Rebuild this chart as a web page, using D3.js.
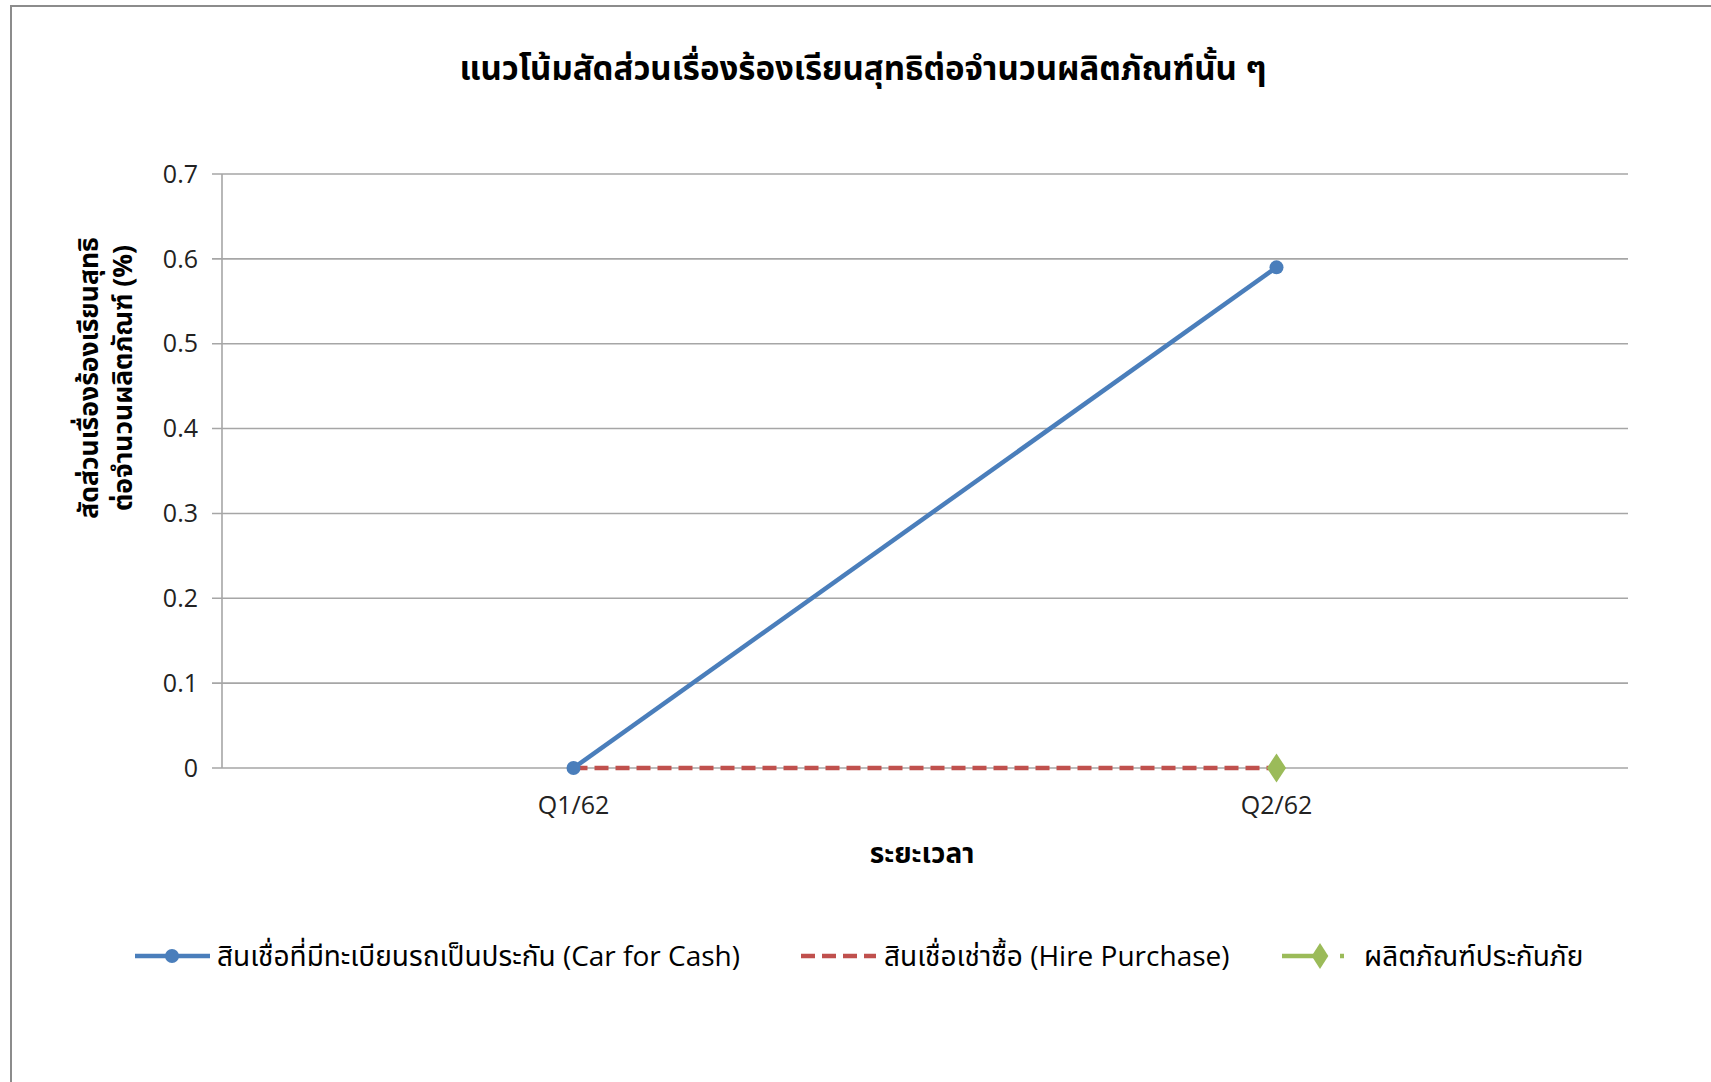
<!DOCTYPE html>
<html><head><meta charset="utf-8">
<script src="https://cdn.jsdelivr.net/npm/d3@7"></script>
<style>
html,body{margin:0;padding:0;background:#fff;}
text{font-family:"Open Sans","Noto Sans Thai","Noto Sans",sans-serif;}
</style></head>
<body>
<svg id="chart" width="1711" height="1082"></svg>
<script>
const title = "แนวโน้มสัดส่วนเรื่องร้องเรียนสุทธิต่อจำนวนผลิตภัณฑ์นั้น ๆ";
const yTitleLines = ["สัดส่วนเรื่องร้องเรียนสุทธิ", "ต่อจำนวนผลิตภัณฑ์ (%)"];
const xTitle = "ระยะเวลา";
const categories = ["Q1/62", "Q2/62"];
const yTicks = [0, 0.1, 0.2, 0.3, 0.4, 0.5, 0.6, 0.7];
const carForCash = [0, 0.59];
const hirePurchase = [0, 0];
const insurance = [null, 0];
const seriesNames = ["สินเชื่อที่มีทะเบียนรถเป็นประกัน (Car for Cash)", "สินเชื่อเช่าซื้อ (Hire Purchase)", "ผลิตภัณฑ์ประกันภัย"];

const svg = d3.select("#chart");
const L = 222, R = 1628, T = 174, B = 768;

// chart border
svg.append("rect").attr("x",11).attr("y",6).attr("width",1720).attr("height",1100)
  .attr("fill","none").attr("stroke","#8c8c8c").attr("stroke-width",2);

const x = d3.scalePoint().domain(categories).range([L, R]).padding(0.5);
const y = d3.scaleLinear().domain([0, 0.7]).range([B, T]);

// gridlines
svg.append("g").selectAll("line").data(yTicks).join("line")
  .attr("x1", L-10).attr("x2", R).attr("y1", d=>y(d)).attr("y2", d=>y(d))
  .attr("stroke","#a6a6a6").attr("stroke-width",1.6);
// y axis line
svg.append("line").attr("x1",L).attr("x2",L).attr("y1",T).attr("y2",B)
  .attr("stroke","#a6a6a6").attr("stroke-width",1.6);

// y tick labels
svg.append("g").selectAll("text").data(yTicks).join("text")
  .attr("x", 198).attr("y", d=>y(d)).attr("dy","0.35em").attr("text-anchor","end")
  .attr("font-size",25).attr("fill","#222").text(d=>d===0?"0":d3.format(".1f")(d));

// x tick labels
svg.append("g").selectAll("text").data(categories).join("text")
  .attr("x", d=>x(d)).attr("y", 805).attr("dy","0.35em").attr("text-anchor","middle")
  .attr("font-size",25).attr("fill","#222").text(d=>d);

// title
svg.append("text").attr("x", 863).attr("y", 68).attr("dy","0.35em").attr("text-anchor","middle")
  .attr("font-size",33).attr("font-weight","bold").attr("fill","#000").text(title);

// x title
svg.append("text").attr("x", 922).attr("y", 853).attr("dy","0.35em").attr("text-anchor","middle")
  .attr("font-size",28).attr("font-weight","bold").attr("fill","#000").text(xTitle);

// y title
const yt = svg.append("text").attr("transform","translate(106,378) rotate(-90)")
  .attr("text-anchor","middle").attr("font-size",26.5).attr("font-weight","bold").attr("fill","#000");
yt.selectAll("tspan").data(yTitleLines).join("tspan")
  .attr("x",0).attr("dy",(d,i)=>i===0?"-0.3em":"1.28em").text(d=>d);

const line = d3.line().defined(d=>d.v!=null).x(d=>x(d.c)).y(d=>y(d.v));
const toPts = arr => categories.map((c,i)=>({c, v:arr[i]}));

// red dashed
svg.append("path").datum(toPts(hirePurchase)).attr("d", line).attr("fill","none")
  .attr("stroke","#c0504d").attr("stroke-width",4.5).attr("stroke-dasharray","14,7");
// blue
svg.append("path").datum(toPts(carForCash)).attr("d", line).attr("fill","none")
  .attr("stroke","#4a7ebb").attr("stroke-width",4.5);
svg.append("g").selectAll("circle").data(toPts(carForCash)).join("circle")
  .attr("cx",d=>x(d.c)).attr("cy",d=>y(d.v)).attr("r",7).attr("fill","#4a7ebb");
// green
svg.append("path").datum(toPts(insurance)).attr("d", line).attr("fill","none")
  .attr("stroke","#9bbb59").attr("stroke-width",4.5);
const diamond = d3.symbol().type(d3.symbolDiamond).size(240);
svg.append("g").selectAll("path").data(toPts(insurance).filter(d=>d.v!=null)).join("path")
  .attr("d", diamond).attr("transform", d=>`translate(${x(d.c)},${y(d.v)}) scale(1.15,1)`)
  .attr("fill","#9bbb59");

// legend
const ly = 956;
const lg = svg.append("g");
lg.append("line").attr("x1",135).attr("x2",210).attr("y1",ly).attr("y2",ly).attr("stroke","#4a7ebb").attr("stroke-width",4.5);
lg.append("circle").attr("cx",172).attr("cy",ly).attr("r",7).attr("fill","#4a7ebb");
lg.append("text").attr("x",217).attr("y",ly).attr("dy","0.35em").attr("font-size",28).attr("fill","#000").text(seriesNames[0]);

lg.append("line").attr("x1",801).attr("x2",876).attr("y1",ly).attr("y2",ly).attr("stroke","#c0504d").attr("stroke-width",4.5).attr("stroke-dasharray","14,7");
lg.append("text").attr("x",884).attr("y",ly).attr("dy","0.35em").attr("font-size",28).attr("fill","#000").text(seriesNames[1]);

lg.append("line").attr("x1",1282).attr("x2",1348).attr("y1",ly).attr("y2",ly).attr("stroke","#9bbb59").attr("stroke-width",4.5).attr("stroke-dasharray","44,14,4,20");
lg.append("path").attr("d", diamond).attr("transform",`translate(1320,${ly}) scale(1.0,0.9)`).attr("fill","#9bbb59");
lg.append("text").attr("x",1364).attr("y",ly).attr("dy","0.35em").attr("font-size",28).attr("fill","#000").text(seriesNames[2]);
</script>
</body></html>
